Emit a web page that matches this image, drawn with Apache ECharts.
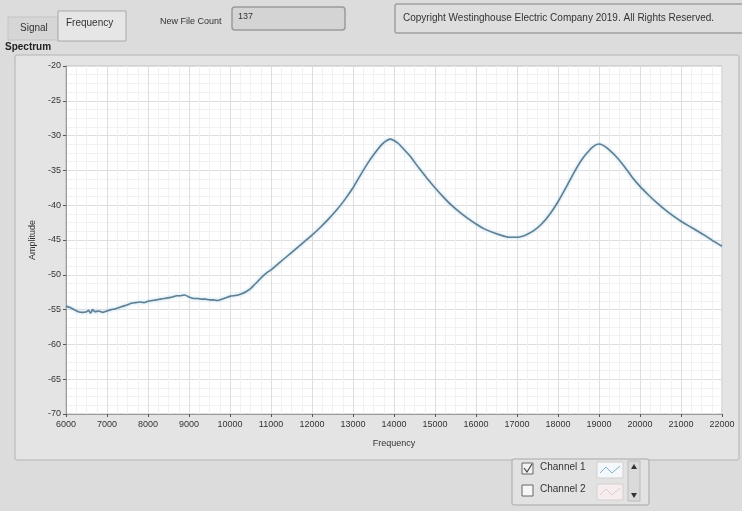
<!DOCTYPE html>
<html><head><meta charset="utf-8">
<script src="https://cdn.jsdelivr.net/npm/echarts@6/dist/echarts.min.js"></script>
<style>html,body{margin:0;padding:0;background:#dcdcdc;}#c{width:742px;height:511px;}</style>
</head><body><div id="c"></div>
<script>
const freqs = [6000,6100,6200,6300,6400,6500,6550,6600,6650,6700,6800,6900,7000,7100,7200,7300,7400,7500,7600,7700,7800,7900,8000,8100,8200,8300,8400,8500,8600,8700,8800,8900,9000,9100,9200,9300,9400,9500,9600,9700,9800,9900,10000,10100,10200,10300,10400,10500,10600,10700,10800,10900,11000,11200,11400,11600,11800,12000,12200,12400,12600,12800,13000,13200,13400,13600,13700,13800,13900,14000,14100,14200,14400,14600,14800,15000,15200,15400,15600,15800,16000,16200,16400,16600,16800,17000,17200,17400,17600,17800,18000,18200,18400,18600,18800,18900,19000,19100,19200,19400,19600,19800,20000,20200,20400,20600,20800,21000,21200,21400,21600,21800,22000];
const amps = [-54.5,-54.7,-55.0,-55.3,-55.4,-55.3,-55.1,-55.5,-55.0,-55.3,-55.2,-55.4,-55.2,-55.0,-54.9,-54.7,-54.5,-54.3,-54.1,-54.0,-53.9,-54.0,-53.8,-53.7,-53.6,-53.5,-53.4,-53.3,-53.2,-53.0,-53.0,-52.9,-53.2,-53.4,-53.4,-53.5,-53.5,-53.6,-53.6,-53.7,-53.5,-53.3,-53.1,-53.0,-52.9,-52.7,-52.4,-52.0,-51.4,-50.8,-50.2,-49.7,-49.3,-48.3,-47.3,-46.3,-45.3,-44.3,-43.2,-42.0,-40.7,-39.2,-37.5,-35.5,-33.6,-32.0,-31.3,-30.8,-30.5,-30.7,-31.1,-31.7,-33.0,-34.6,-36.1,-37.5,-38.8,-40.0,-41.0,-41.9,-42.7,-43.4,-43.9,-44.3,-44.6,-44.6,-44.3,-43.7,-42.7,-41.3,-39.5,-37.4,-35.2,-33.3,-31.9,-31.4,-31.2,-31.4,-31.8,-32.9,-34.3,-35.9,-37.3,-38.5,-39.6,-40.6,-41.5,-42.3,-43.0,-43.7,-44.4,-45.2,-45.9];
const xTicks = {min: 6000, max: 22000, step: 1000};
const yTicks = {min: -70, max: -20, step: 5};
const series1 = freqs.map((f, i) => [f, amps[i]]);

const FONT = '"Liberation Sans Narrow","Liberation Sans",Arial,sans-serif';
const chart = echarts.init(document.getElementById('c'));
const txt = (x, y, s, extra) => ({type: 'text', left: x, top: y, style: Object.assign({text: s, fontSize: 10, fontFamily: FONT, fill: '#333'}, extra || {})});
chart.setOption({
  backgroundColor: '#dcdcdc',
  animation: false,
  graphic: [
    {type: 'rect', shape: {x: 15, y: 55, width: 724, height: 405, r: 2}, style: {fill: '#e4e4e4', stroke: '#b4b4b4', lineWidth: 1}, z: -10},
    {type: 'rect', shape: {x: 8, y: 17, width: 50, height: 23}, style: {fill: '#d6d6d6', stroke: '#c4c4c4'}},
    {type: 'rect', shape: {x: 58, y: 11, width: 68, height: 30}, style: {fill: '#e6e6e6', stroke: '#aaaaaa'}},
    txt(20, 23, 'Signal'),
    txt(66, 18, 'Frequency'),
    txt(160, 17, 'New File Count', {fontSize: 9}),
    {type: 'rect', shape: {x: 232, y: 7, width: 113, height: 23, r: 3}, style: {fill: '#d4d4d4', stroke: '#9a9a9a', lineWidth: 1.5}},
    txt(238, 12, '137', {fontSize: 9}),
    {type: 'rect', shape: {x: 395, y: 4, width: 350, height: 29, r: 2}, style: {fill: '#dedede', stroke: '#a0a0a0', lineWidth: 1.5}},
    txt(403, 13, 'Copyright Westinghouse Electric Company 2019. All Rights Reserved.', {fontSize: 10}),
    txt(5, 42, 'Spectrum', {fontWeight: 'bold', fontSize: 10, fill: '#222'}),
    {type: 'rect', shape: {x: 512, y: 459, width: 137, height: 46, r: 2}, style: {fill: '#e2e2e2', stroke: '#a8a8a8', lineWidth: 1}},
    {type: 'rect', shape: {x: 522, y: 463, width: 11, height: 11}, style: {fill: '#f2f2f2', stroke: '#666'}},
    {type: 'polyline', shape: {points: [[524, 468], [527, 472], [532, 464]]}, style: {stroke: '#444', lineWidth: 1.2, fill: null}},
    txt(540, 462, 'Channel 1', {fontSize: 10}),
    {type: 'rect', shape: {x: 522, y: 485, width: 11, height: 11}, style: {fill: '#f6f6f6', stroke: '#666'}},
    txt(540, 484, 'Channel 2', {fontSize: 10}),
    {type: 'rect', shape: {x: 597, y: 462, width: 26, height: 16}, style: {fill: '#f4f8fa', stroke: '#cfcfcf'}},
    {type: 'polyline', smooth: 0.5, shape: {points: [[600, 473], [606, 467], [612, 473], [620, 466]]}, style: {stroke: '#7fb2d0', lineWidth: 1, fill: null}},
    {type: 'rect', shape: {x: 597, y: 484, width: 26, height: 16}, style: {fill: '#f6eeee', stroke: '#d8d0d0'}},
    {type: 'polyline', smooth: 0.5, shape: {points: [[600, 495], [606, 489], [612, 495], [620, 488]]}, style: {stroke: '#e8c8c8', lineWidth: 1, fill: null}},
    {type: 'rect', shape: {x: 628, y: 461, width: 12, height: 40}, style: {fill: '#dadada', stroke: '#bbbbbb'}},
    {type: 'polygon', shape: {points: [[631, 469], [637, 469], [634, 464]]}, style: {fill: '#333'}},
    {type: 'polygon', shape: {points: [[631, 493], [637, 493], [634, 498]]}, style: {fill: '#333'}}
  ],
  grid: {left: 66, right: 20, top: 66, bottom: 97, show: true, backgroundColor: '#ffffff', borderColor: '#bdbdbd', borderWidth: 1},
  xAxis: {
    type: 'value', min: xTicks.min, max: xTicks.max, interval: xTicks.step,
    name: 'Frequency', nameLocation: 'middle', nameGap: 25,
    nameTextStyle: {fontSize: 9, fontFamily: FONT, color: '#333'},
    axisLine: {show: true, lineStyle: {color: '#9a9a9a', width: 1}},
    axisTick: {show: true, length: 3, lineStyle: {color: '#555'}},
    axisLabel: {fontSize: 9, fontFamily: FONT, color: '#333', margin: 6, formatter: v => String(v)},
    splitLine: {show: true, lineStyle: {color: '#dedede', width: 1}},
    minorTick: {show: false, splitNumber: 4},
    minorSplitLine: {show: true, lineStyle: {color: '#f1f1f1', width: 1}}
  },
  yAxis: {
    type: 'value', min: yTicks.min, max: yTicks.max, interval: yTicks.step,
    name: 'Amplitude', nameLocation: 'middle', nameGap: 26, nameRotate: 90,
    nameTextStyle: {fontSize: 9, fontFamily: FONT, color: '#333'},
    axisLine: {show: true, lineStyle: {color: '#9a9a9a', width: 1}},
    axisTick: {show: true, length: 3, lineStyle: {color: '#555'}},
    axisLabel: {fontSize: 9, fontFamily: FONT, color: '#333', margin: 5, formatter: v => String(v)},
    splitLine: {show: true, lineStyle: {color: '#dedede', width: 1}},
    minorTick: {show: false, splitNumber: 4},
    minorSplitLine: {show: true, lineStyle: {color: '#f1f1f1', width: 1}}
  },
  series: [{
    name: 'Channel 1', type: 'line', data: series1, showSymbol: false, smooth: 0.15,
    lineStyle: {color: '#5f7f92', width: 1.6, shadowColor: 'rgba(150,200,230,0.8)', shadowBlur: 3}
  }]
});
</script></body></html>
